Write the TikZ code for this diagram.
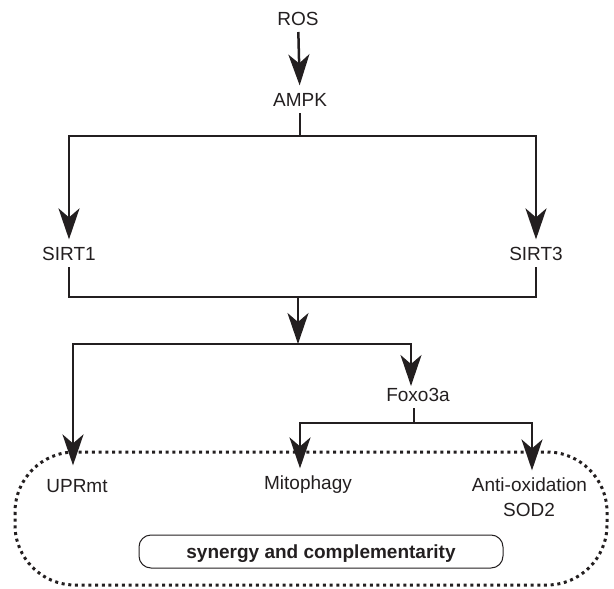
\documentclass[tikz,border=0pt]{standalone}
\usepackage{fontspec}
\setmainfont{Liberation Sans}
\usepackage{tikz}
\usetikzlibrary{arrows.meta}
\definecolor{ink}{HTML}{231F20}

\begin{document}
\begin{tikzpicture}[
  x=1pt, y=-1pt,
  lbl/.style={font=\fontsize{19}{22}\selectfont, text=ink, inner sep=0pt, outer sep=7pt,
    text height=13.6pt, text depth=0pt, anchor=base},
  link/.style={draw=ink, line width=2.5pt},
  arr/.style={link, -{Stealth[length=31pt, width=21pt, inset=9pt]}},
  dotbox/.style={draw=ink, line width=3pt, dash pattern=on 3pt off 3.7pt, rounded corners=60pt},
  tag/.style={draw=ink, line width=1pt, rounded corners=12pt, minimum width=364pt,
    minimum height=33pt, inner sep=0pt, font=\bfseries\fontsize{19}{22}\selectfont, text=ink,
    text height=13.6pt, text depth=0pt}
]
  \useasboundingbox (0,0) rectangle (614,589);

  \node[lbl] (ros) at (298,25) {ROS};
  \node[lbl] (ampk) at (300,106) {AMPK};
  \node[lbl] (sirt1) at (69,260) {SIRT1};
  \node[lbl] (sirt3) at (536,260) {SIRT3};
  \node[lbl] (foxo) at (418,401) {Foxo3a};
  \node[lbl] (uprmt) at (77,492) {UPRmt};
  \node[lbl] (mito) at (308,489) {Mitophagy};
  \node[lbl] (antiox) at (529.5,491) {Anti-oxidation};
  \node[lbl] (sod) at (529,516) {SOD2};

  \coordinate (fork1) at (300,136);
  \coordinate (join) at (298,297);
  \coordinate (fork2) at (298,344);
  \coordinate (fork3) at (414,423);

  \draw[dotbox] (15,452) rectangle (607,585);
  \node[tag] (synergy) at (321,551.5) {synergy and complementarity};

  \draw[arr] (ros) -- (ampk);
  \draw[link] (ampk) -- (fork1);
  \draw[arr] (fork1) -| (sirt1);
  \draw[arr] (fork1) -| (sirt3);
  \draw[link] (sirt1) |- (join) -| (sirt3);
  \draw[arr] (join) -- (fork2);
  \draw[arr] (fork2) -| ([xshift=-4pt,yshift=6pt]uprmt.north);
  \draw[arr] (fork2) -| ([xshift=-7pt,yshift=-5.6pt]foxo.north);
  \draw[link] (foxo.south -| fork3) -- (fork3);
  \draw[arr] (fork3) -| ([xshift=-8pt]mito.north);
  \draw[arr] (fork3) -| ([xshift=2.5pt]antiox.north);
\end{tikzpicture}
\end{document}
